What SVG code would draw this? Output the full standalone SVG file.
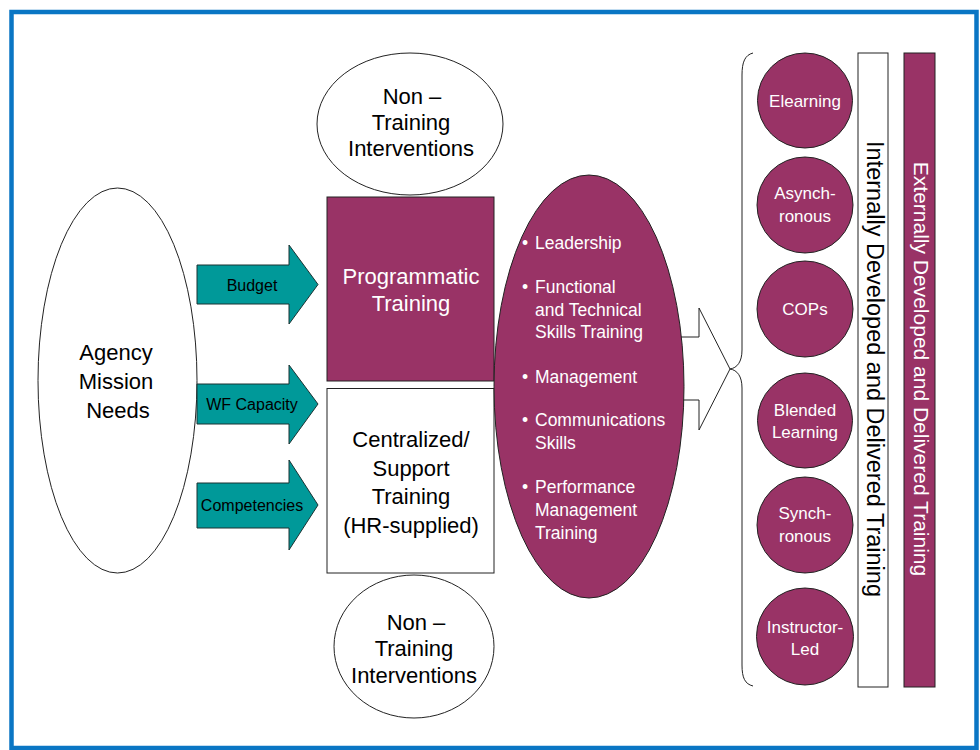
<svg xmlns="http://www.w3.org/2000/svg" width="980" height="750" viewBox="0 0 980 750">
<style>
  text { font-family: "Liberation Sans", Arial, sans-serif; }
  .blk { fill: #000; text-anchor: middle; }
  .wht { fill: #fff; text-anchor: middle; }
  .ln { stroke: #222; stroke-width: 1; }
  .purple { fill: #993366; }
  .teal { fill: #009999; stroke: #1a3333; stroke-width: 1; }
  .f22 { font-size: 22px; }
  .f17 { font-size: 17px; }
  .f16 { font-size: 16px; }
  .bul { font-size: 17.5px; fill: #fff; }
</style>
<rect x="0" y="0" width="980" height="750" fill="#fff"/>
<rect x="11.5" y="12" width="965" height="736" fill="#fff" stroke="#0A76C4" stroke-width="4.5"/>

<g id="agency">
  <ellipse cx="117.5" cy="380.5" rx="79.5" ry="192.5" fill="#fff" class="ln"/>
  <text class="blk f22" x="116" y="360">Agency</text>
  <text class="blk f22" x="116" y="389">Mission</text>
  <text class="blk f22" x="118" y="418">Needs</text>
</g>

<g id="connectors">
  <path d="M650,337 L699,337 L699,308 L730,369 L699,430 L699,400 L650,400 Z" fill="#fff" class="ln"/>
  <path d="M753,53 C745,55 742,62 742,75 L742,350 C742,362 737,368 730,369 C737,370 742,376 742,388 L742,665 C742,678 745,684 753,686" fill="none" class="ln"/>
</g>

<g id="arrow-budget">
  <path class="teal" d="M197,265 L289,265 L289,245 L318,284.5 L289,324 L289,304 L197,304 Z"/>
  <text class="blk f16" x="252" y="291">Budget</text>
</g>
<g id="arrow-wf">
  <path class="teal" d="M197,384 L289,384 L289,365 L318,404 L289,444 L289,424 L197,424 Z"/>
  <text class="blk f16" x="252" y="410">WF Capacity</text>
</g>
<g id="arrow-comp">
  <path class="teal" d="M197,483 L289,483 L289,460 L318,505 L289,550 L289,528 L197,528 Z"/>
  <text class="blk f16" x="252" y="511">Competencies</text>
</g>

<g id="nontraining-top">
  <ellipse cx="410" cy="124" rx="93" ry="71" fill="#fff" class="ln"/>
  <text class="blk f22" x="412" y="104">Non –</text>
  <text class="blk f22" x="411" y="130">Training</text>
  <text class="blk f22" x="411" y="156">Interventions</text>
</g>

<g id="programmatic">
  <rect x="327" y="197" width="167" height="184" class="purple ln"/>
  <text class="wht f22" x="411" y="283.5">Programmatic</text>
  <text class="wht f22" x="411" y="311">Training</text>
</g>

<g id="centralized">
  <rect x="327" y="388.5" width="167" height="184.5" fill="#fff" class="ln"/>
  <text class="blk f22" x="411" y="447">Centralized/</text>
  <text class="blk f22" x="411" y="475.5">Support</text>
  <text class="blk f22" x="411" y="504">Training</text>
  <text class="blk f22" x="411" y="532.5">(HR-supplied)</text>
</g>

<g id="nontraining-bottom">
  <ellipse cx="414" cy="646.5" rx="80" ry="71.5" fill="#fff" class="ln"/>
  <text class="blk f22" x="416" y="630">Non –</text>
  <text class="blk f22" x="414" y="656">Training</text>
  <text class="blk f22" x="414" y="683">Interventions</text>
</g>

<g id="categories">
  <ellipse cx="589" cy="386.5" rx="95" ry="211.5" class="purple ln"/>
  <text class="bul" x="522" y="249">•</text><text class="bul" x="535" y="249">Leadership</text>
  <text class="bul" x="522" y="293">•</text><text class="bul" x="535" y="293">Functional</text>
  <text class="bul" x="535" y="315.5">and Technical</text>
  <text class="bul" x="535" y="338">Skills Training</text>
  <text class="bul" x="522" y="383">•</text><text class="bul" x="535" y="383">Management</text>
  <text class="bul" x="522" y="426">•</text><text class="bul" x="535" y="426">Communications</text>
  <text class="bul" x="535" y="449">Skills</text>
  <text class="bul" x="522" y="493">•</text><text class="bul" x="535" y="493">Performance</text>
  <text class="bul" x="535" y="516">Management</text>
  <text class="bul" x="535" y="538.5">Training</text>
</g>

<g id="elearning">
  <circle cx="805" cy="100.5" r="47.5" class="purple ln"/>
  <text class="wht f17" x="805" y="106.5">Elearning</text>
</g>
<g id="asynchronous">
  <circle cx="805" cy="205" r="48" class="purple ln"/>
  <text class="wht f17" x="805" y="199">Asynch-</text>
  <text class="wht f17" x="805" y="222">ronous</text>
</g>
<g id="cops">
  <circle cx="805" cy="309" r="48" class="purple ln"/>
  <text class="wht f17" x="805" y="315">COPs</text>
</g>
<g id="blended">
  <circle cx="805" cy="420.5" r="47.5" class="purple ln"/>
  <text class="wht f17" x="805" y="416">Blended</text>
  <text class="wht f17" x="805" y="438">Learning</text>
</g>
<g id="synchronous">
  <circle cx="805" cy="525" r="48" class="purple ln"/>
  <text class="wht f17" x="805" y="519">Synch-</text>
  <text class="wht f17" x="805" y="542">ronous</text>
</g>
<g id="instructor">
  <circle cx="805" cy="636.5" r="48.5" class="purple ln"/>
  <text class="wht f17" x="805" y="633">Instructor-</text>
  <text class="wht f17" x="805" y="655">Led</text>
</g>

<g id="internal">
  <rect x="858" y="53" width="30" height="634" fill="#fff" class="ln"/>
  <text class="blk" font-size="23.5" transform="translate(866.5,369) rotate(90)">Internally Developed and Delivered Training</text>
</g>
<g id="external">
  <rect x="904" y="53" width="31" height="634" class="purple ln"/>
  <text class="wht" font-size="21" transform="translate(914,369) rotate(90)">Externally Developed and Delivered Training</text>
</g>
</svg>
